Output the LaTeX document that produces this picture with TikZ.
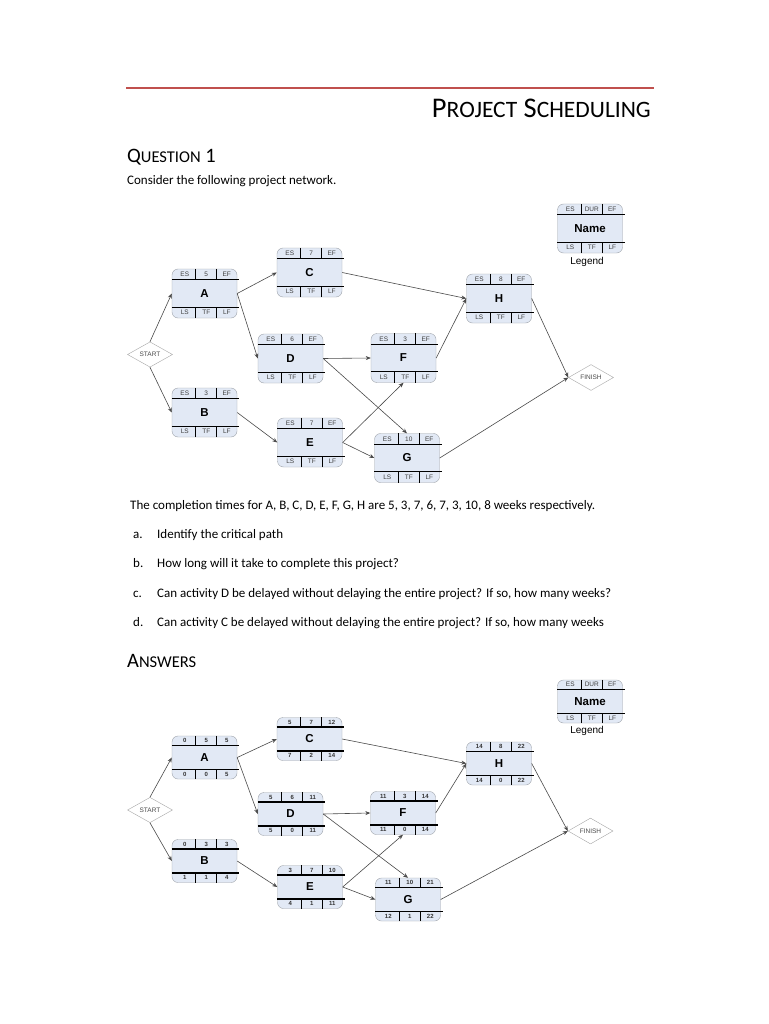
\documentclass[tikz,border=0pt]{standalone}
\usepackage{fontspec}
\setmainfont{Carlito}
\newfontfamily\diagfont{Liberation Sans}
\usetikzlibrary{arrows.meta,calc,shapes.geometric}

\definecolor{rulered}{HTML}{C0504D}
\definecolor{boxfill}{HTML}{E2E9F5}
\definecolor{boxline}{HTML}{9EA3AA}
\definecolor{linkgray}{HTML}{4A4A4A}

% small caps by hand
\newcommand{\scpart}[2]{{\fontsize{#1}{#1}\selectfont #2}}

% activity box: [cell style]{name}{centre}{height}{label}{top row}{bottom row}
\newcommand{\activity}[7][]{%
  \node[actbox, minimum height=#4pt] (#2) at (#3) {#5};
  \draw[rowline] ($(#2.north west)+(0,0.225*#4)$) -- ($(#2.north east)+(2,0.225*#4)$);
  \draw[rowline] ($(#2.south west)+(0,-0.225*#4)$) -- ($(#2.south east)+(2,-0.225*#4)$);
  \foreach \dx in {24,45} {
    \draw[divline] ($(#2.north west)+(\dx,0)$) -- ++(0,0.225*#4);
    \draw[divline] ($(#2.south west)+(\dx,0)$) -- ++(0,-0.225*#4);
  }
  \foreach \t [count=\i] in {#6} {
    \pgfmathsetmacro\cx{{13,34.5,55}[\i-1]}
    \node[cell,#1] at ($(#2.north west)+(\cx,0.1125*#4)$) {\t};
  }
  \foreach \t [count=\i] in {#7} {
    \pgfmathsetmacro\cx{{13,34.5,55}[\i-1]}
    \node[cell,#1] at ($(#2.south west)+(\cx,-0.1125*#4)$) {\t};
  }
}

\begin{document}
\begin{tikzpicture}[x=1pt, y=-1pt,
    actbox/.style={draw=boxline, fill=boxfill, rounded corners=6pt,
        minimum width=65pt, inner sep=0pt,
        font=\diagfont\fontsize{11.5}{11.5}\selectfont\bfseries},
    cell/.style={font=\diagfont\fontsize{6.5}{7}\selectfont, text=black!75, inner sep=0pt},
    numcell/.style={font=\diagfont\fontsize{6}{7}\selectfont\bfseries, text=black!80},
    rowline/.style={line width=1.2pt},
    divline/.style={line width=1pt},
    link/.style={-{Stealth[length=5pt,width=4pt]}, draw=linkgray, line width=0.6pt},
    milestone/.style={diamond, draw=black!35, fill=white, minimum width=45pt,
        minimum height=25pt, inner sep=0pt,
        font=\diagfont\fontsize{6.5}{7}\selectfont, text=black!70},
    txt/.style={anchor=base west, inner sep=0pt, font=\fontsize{13}{15}\selectfont},
    head/.style={anchor=base west, inner sep=0pt, font=\fontsize{20.5}{21}\selectfont},
    legendlbl/.style={font=\diagfont\fontsize{10}{11}\selectfont, inner sep=0pt},
]
\useasboundingbox (0,0) rectangle (768,1024);
\fill[white] (0,0) rectangle (768,1024);

% Header
\draw[rulered, line width=1.4pt] (126,88) -- (654,88);
\node[anchor=base east, inner sep=0pt, font=\fontsize{28.5}{29}\selectfont] (title) at (651,118)
    {P\scpart{23.5}{ROJECT} S\scpart{23.5}{CHEDULING}};

% Question
\node[head] (qhead) at (127,163) {Q\scpart{16.5}{UESTION} 1};
\node[txt] (qintro) at (127,185) {Consider the following project network.};

% Question network
\activity{qleg}{590,228.5}{49}{Name}{ES,DUR,EF}{LS,TF,LF}
\node[legendlbl] (qlegtxt) at (587,262) {Legend};

\node[milestone] (qstart) at (150,354.5) {START};
\node[milestone] (qfinish) at (591,377.5) {FINISH};

\activity{qa}{204.5,293.5}{49}{A}{ES,5,EF}{LS,TF,LF}
\activity{qb}{204.5,412.5}{49}{B}{ES,3,EF}{LS,TF,LF}
\activity{qc}{309.5,272.5}{49}{C}{ES,7,EF}{LS,TF,LF}
\activity{qd}{290.5,358.5}{49}{D}{ES,6,EF}{LS,TF,LF}
\activity{qe}{310,442.5}{49}{E}{ES,7,EF}{LS,TF,LF}
\activity{qf}{403.5,358}{49}{F}{ES,3,EF}{LS,TF,LF}
\activity{qg}{407,458}{49}{G}{ES,10,EF}{LS,TF,LF}
\activity{qh}{499,298.5}{49}{H}{ES,8,EF}{LS,TF,LF}

\draw[link] (qstart.north) -- (qa.west);
\draw[link] (qstart.south) -- (qb.west);
\draw[link] (qa.east) -- (qc.west);
\draw[link] (qa.east) -- (qd.west);
\draw[link] (qb.east) -- (qe.west);
\draw[link] (qc.east) -- (qh.west);
\draw[link] (qd.east) -- (qf.west);
\draw[link] (qd.east) -- (qg.north);
\draw[link] (qe.east) -- (qf.south);
\draw[link] (qe.east) -- (qg.west);
\draw[link] (qf.east) -- (qh.west);
\draw[link] (qh.east) -- (qfinish.west);
\draw[link] (qg.east) -- (qfinish.west);

% Questions
\node[txt] (qtimes) at (130,509)
    {The completion times for A, B, C, D, E, F, G, H are 5, 3, 7, 6, 7, 3, 10, 8 weeks respectively.};
\node[txt] (qla) at (133,538) {a.};
\node[txt] (qta) at (157,538) {Identify the critical path};
\node[txt] (qlb) at (133,567) {b.};
\node[txt] (qtb) at (157,567) {How long will it take to complete this project?};
\node[txt] (qlc) at (133,597) {c.};
\node[txt] (qtc) at (157,597) {Can activity D be delayed without delaying the entire project? If so, how many weeks?};
\node[txt] (qld) at (133,626) {d.};
\node[txt] (qtd) at (157,626) {Can activity C be delayed without delaying the entire project? If so, how many weeks};

% Answers
\node[head] (ahead) at (127,667) {A\scpart{16.5}{NSWERS}};

\activity{aleg}{590,701.5}{43}{Name}{ES,DUR,EF}{LS,TF,LF}
\node[legendlbl] (alegtxt) at (587,731) {Legend};

\node[milestone, minimum height=24pt] (astart) at (150,810) {START};
\node[milestone, minimum height=24pt] (afinish) at (590.5,831) {FINISH};

\activity[numcell]{aa}{204.5,757.5}{43}{A}{0,5,5}{0,0,5}
\activity[numcell]{ab}{204.5,861}{43}{B}{0,3,3}{1,1,4}
\activity[numcell]{ac}{309.5,739}{43}{C}{5,7,12}{7,2,14}
\activity[numcell]{ad}{290.5,814}{43}{D}{5,6,11}{5,0,11}
\activity[numcell]{ae}{310,887}{43}{E}{3,7,10}{4,1,11}
\activity[numcell]{af}{403,813}{43}{F}{11,3,14}{11,0,14}
\activity[numcell]{ag}{408,899.5}{43}{G}{11,10,21}{12,1,22}
\activity[numcell]{ah}{499,763.5}{43}{H}{14,8,22}{14,0,22}

\draw[link] (astart.north) -- (aa.west);
\draw[link] (astart.south) -- (ab.west);
\draw[link] (aa.east) -- (ac.west);
\draw[link] (aa.east) -- (ad.west);
\draw[link] (ab.east) -- (ae.west);
\draw[link] (ac.east) -- (ah.west);
\draw[link] (ad.east) -- (af.west);
\draw[link] (ad.east) -- (ag.north);
\draw[link] (ae.east) -- (af.south);
\draw[link] (ae.east) -- (ag.west);
\draw[link] (af.east) -- (ah.west);
\draw[link] (ah.east) -- (afinish.west);
\draw[link] (ag.east) -- (afinish.west);

\end{tikzpicture}
\end{document}
